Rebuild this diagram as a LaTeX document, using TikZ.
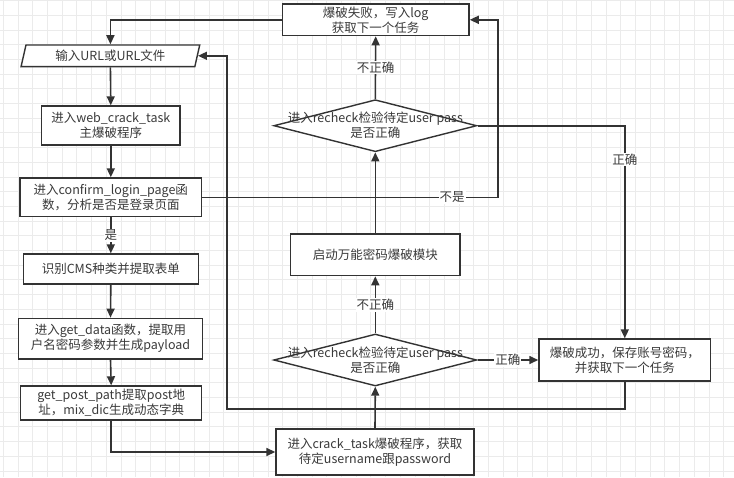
\documentclass[tikz,border=0pt]{standalone}
\usepackage{fontspec}
\setmainfont{Noto Sans CJK SC}
\usetikzlibrary{shapes.geometric,arrows.meta}
\definecolor{ln}{HTML}{333333}
\definecolor{tx}{HTML}{3A3A3A}
\definecolor{gridc}{HTML}{EBEBEB}
\begin{document}
\begin{tikzpicture}[x=1pt,y=-1pt,
  box/.style={draw=ln, line width=1.4pt, fill=white, align=center, inner sep=0pt, text=tx, font=\fontsize{12.5}{15}\selectfont},
  dia/.style={diamond, draw=ln, line width=1.4pt, fill=white, inner sep=0pt, minimum width=203pt, minimum height=52pt},
  dtext/.style={align=center, text=tx, inner sep=0pt, font=\fontsize{12.5}{15}\selectfont},
  arr/.style={draw=ln, line width=1.6pt, -{Triangle[length=9pt,width=8pt]}},
  lbl/.style={fill=white, inner sep=1pt, text=tx, font=\fontsize{12.5}{14}\selectfont},
]
\fill[white] (0,0) rectangle (734,477);
\useasboundingbox (0,0) rectangle (734,477);
\foreach \i in {0,...,49} \draw[gridc, line width=0.8pt] (3.3+14.7*\i,0) -- (3.3+14.7*\i,477);
\foreach \i in {0,...,32} \draw[gridc, line width=0.8pt] (0,0.5+14.7*\i) -- (734,0.5+14.7*\i);

% left column
\node[box, trapezium, trapezium left angle=74.5, trapezium right angle=105.5, trapezium stretches=true, minimum width=179pt, minimum height=21.7pt] (p) at (110.4,55.8) {输入URL或URL文件};
\node[box, minimum width=138.3pt, minimum height=39pt] (w) at (110.8,125.5) {进入web\_crack\_task\\主爆破程序};
\node[box, minimum width=181.7pt, minimum height=38.7pt] (c) at (110.8,197.3) {进入confirm\_login\_page函\\数，分析是否是登录页面};
\node[box, minimum width=175pt, minimum height=30pt] (m) at (110.8,269) {识别CMS种类并提取表单};
\node[box, minimum width=184.4pt, minimum height=40.7pt] (gd) at (110.5,338.7) {进入get\_data函数，提取用\\户名密码参数并生成payload};
\node[box, minimum width=181pt, minimum height=34pt] (g) at (111.2,403) {get\_post\_path提取post地\\址，mix\_dic生成动态字典};

% middle column
\node[box, minimum width=186.7pt, minimum height=31.7pt] (f) at (375.7,19.8) {爆破失败，写入log\\获取下一个任务};
\node[dia] (d1) at (375.3,125.7) {};
\node[dtext] (t1) at (d1.center) {进入recheck检验待定user pass\\是否正确};
\node[box, minimum width=169.3pt, minimum height=41.7pt] (l) at (375.3,254.8) {启动万能密码爆破模块};
\node[dia] (d2) at (375.3,360) {};
\node[dtext] (t2) at (d2.center) {进入recheck检验待定user pass\\是否正确};
\node[box, minimum width=198pt, minimum height=46pt] (k) at (375,452) {进入crack\_task爆破程序，获取\\待定username跟password};

% right
\node[box, minimum width=171.7pt, minimum height=42pt] (s) at (624.8,360) {爆破成功，保存账号密码，\\并获取下一个任务};

\coordinate (c1) at (227,409);
\coordinate (c2) at (498,197.3);

% connectors
\draw[arr] (p.south) -- (w.north);
\draw[arr] (w.south) -- (c.north);
\draw[arr] (c.south) -- node[lbl]{是} (m.north);
\draw[arr] (m.south) -- (gd.north);
\draw[arr] (gd.south) -- (g.north);
\draw[arr] (g.south) |- (k.west);
\draw[arr] (k.north) -- (d2.south);
\draw[arr] (d2.north) -- node[lbl]{不正确} (l.south);
\draw[arr] (l.north) -- (d1.south);
\draw[arr] (d1.north) -- node[lbl]{不正确} (f.south);
\draw[arr] (d1.east) -| node[lbl,pos=0.58]{正确} (s.north);
\draw[arr] (d2.east) -- node[lbl]{正确} (s.west);
\draw[arr] (s.south) |- (c1) |- (p.east);
\draw[arr] (c.east) -- node[lbl,pos=0.845]{不是} (c2) |- (f.east);
\draw[arr] (f.west) -| (p.north);
\end{tikzpicture}
\end{document}
